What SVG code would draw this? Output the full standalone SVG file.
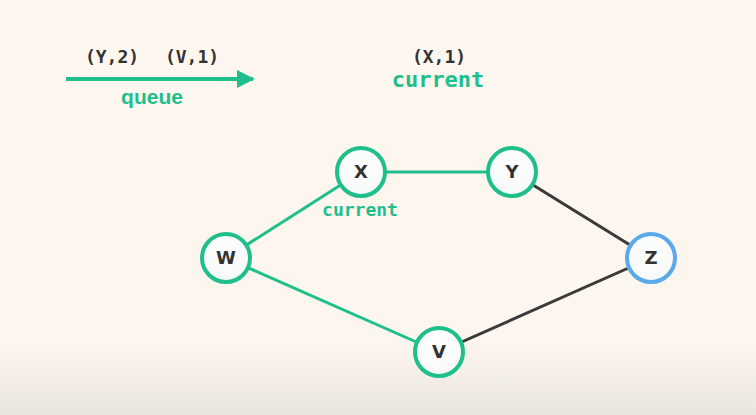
<svg xmlns="http://www.w3.org/2000/svg" width="756" height="415" viewBox="0 0 756 415">
<defs>
<linearGradient id="bg" x1="0" y1="0" x2="0" y2="1">
<stop offset="0" stop-color="#fdf7f0"/>
<stop offset="0.82" stop-color="#fcf6ef"/>
<stop offset="1" stop-color="#ebe5df"/>
</linearGradient>
<radialGradient id="nf" cx="0.5" cy="0.4" r="0.6">
<stop offset="0" stop-color="#ffffff"/>
<stop offset="1" stop-color="#f6f8f7"/>
</radialGradient>
<marker id="ah" viewBox="0 0 10 10" refX="9" refY="5" markerWidth="4.5" markerHeight="4.5" orient="auto" markerUnits="strokeWidth">
<path d="M0,0 L10,5 L0,10 Z" fill="#1fbf8c"/>
</marker>
</defs>
<style>
.mono{font-family:"DejaVu Sans Mono","Liberation Mono",monospace;font-weight:bold;}
.lbl{fill:#333333;font-size:18px;}
.cur{fill:#1fbf8c;}
.node circle{fill:url(#nf);stroke:#1fbf8c;stroke-width:4;}
.node text{font-family:"DejaVu Sans","Liberation Sans",sans-serif;font-weight:bold;font-size:18px;fill:#333333;text-anchor:middle;}
.g{stroke:#1fbf8c;stroke-width:3;fill:none;}
.d{stroke:#3a3a3a;stroke-width:3;fill:none;}
</style>
<rect width="756" height="415" fill="url(#bg)"/>
<g id="queue-panel">
<line x1="66" y1="79" x2="253" y2="79" stroke="#1fbf8c" stroke-width="4" marker-end="url(#ah)"/>
<text class="mono lbl" x="112" y="63" text-anchor="middle">(Y,2)</text>
<text class="mono lbl" x="192" y="63" text-anchor="middle">(V,1)</text>
<text x="152" y="104" text-anchor="middle" font-family="'Liberation Sans','DejaVu Sans',sans-serif" font-weight="bold" font-size="21" fill="#1fbf8c">queue</text>
</g>
<g id="current-panel">
<text class="mono lbl" x="439" y="63" text-anchor="middle">(X,1)</text>
<text class="mono cur" x="438" y="87" text-anchor="middle" font-size="22">current</text>
</g>
<g id="connectors">
<line class="g" x1="361" y1="172" x2="512" y2="172"/>
<line class="g" x1="361" y1="172" x2="226" y2="258"/>
<line class="g" x1="226" y1="258" x2="439" y2="352"/>
<line class="d" x1="512" y1="172" x2="651" y2="258"/>
<line class="d" x1="439" y1="352" x2="651" y2="258"/>
</g>
<g id="node-X" class="node"><circle cx="361" cy="172" r="24"/><text x="361" y="178">X</text></g>
<g id="node-Y" class="node"><circle cx="512" cy="172" r="24"/><text x="512" y="178">Y</text></g>
<g id="node-W" class="node"><circle cx="226" cy="258" r="24"/><text x="226" y="264">W</text></g>
<g id="node-Z" class="node"><circle cx="651" cy="258" r="24" style="stroke:#5aa9ea"/><text x="651" y="264">Z</text></g>
<g id="node-V" class="node"><circle cx="439" cy="352" r="24"/><text x="439" y="358">V</text></g>
<text class="mono cur" x="360" y="216" text-anchor="middle" font-size="18">current</text>
</svg>
